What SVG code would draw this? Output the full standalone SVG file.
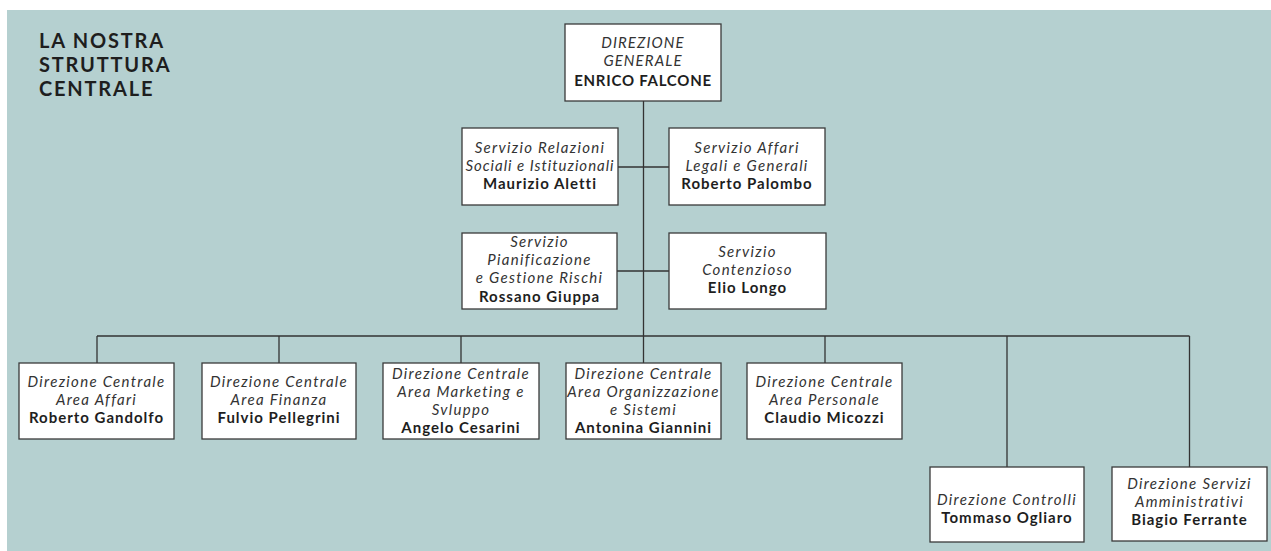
<svg xmlns="http://www.w3.org/2000/svg" width="1271" height="551" viewBox="0 0 1271 551">
<style>
.box{fill:#ffffff;stroke:#3a3a3a;stroke-width:1.3}
.ln{stroke:#333333;stroke-width:1.3;fill:none}
text{font-family:Lato,"Open Sans","Liberation Sans",sans-serif;fill:#1e1e1e;text-anchor:middle;font-size:15px}
.i{font-style:italic;fill:#333333;letter-spacing:1.3px}
.b{font-weight:bold;letter-spacing:1px}
.t{font-weight:bold;font-size:20px;letter-spacing:1.8px;text-anchor:start;fill:#1e1e1e}
</style>
<rect x="7" y="10" width="1264" height="541" fill="#b5d0d0"/>
<g id="title">
<text class="t" x="39" y="48">LA NOSTRA</text>
<text class="t" x="39" y="72">STRUTTURA</text>
<text class="t" x="39" y="96">CENTRALE</text>
</g>
<g id="connectors">
<path class="ln" d="M643.5 101V336M618 167H669M617 271H669M97 336H1189.5M97 336V363M279 336V363M461 336V363M643.5 336V363M825 336V363M1007 336V467M1189.5 336V467"/>
</g>
<g id="direzione-generale">
<rect class="box" x="565" y="24" width="156" height="77"/>
<text class="i" x="643" y="48" style="letter-spacing:1.1px">DIREZIONE</text>
<text class="i" x="643" y="66" style="letter-spacing:1.1px">GENERALE</text>
<text class="b" x="643" y="85.5" style="letter-spacing:0.75px">ENRICO FALCONE</text>
</g>
<g id="relazioni">
<rect class="box" x="462" y="128" width="156" height="77"/>
<text class="i" x="540" y="153">Servizio Relazioni</text>
<text class="i" x="540" y="171" style="letter-spacing:1px">Sociali e Istituzionali</text>
<text class="b" x="540" y="189">Maurizio Aletti</text>
</g>
<g id="affari-legali">
<rect class="box" x="669" y="128" width="156" height="77"/>
<text class="i" x="747" y="153">Servizio Affari</text>
<text class="i" x="747" y="171">Legali e Generali</text>
<text class="b" x="747" y="189">Roberto Palombo</text>
</g>
<g id="pianificazione">
<rect class="box" x="462" y="233" width="155" height="76"/>
<text class="i" x="539.5" y="247">Servizio</text>
<text class="i" x="539.5" y="265">Pianificazione</text>
<text class="i" x="539.5" y="283">e Gestione Rischi</text>
<text class="b" x="539.5" y="301.5">Rossano Giuppa</text>
</g>
<g id="contenzioso">
<rect class="box" x="669" y="233" width="157" height="76"/>
<text class="i" x="747.5" y="257">Servizio</text>
<text class="i" x="747.5" y="275">Contenzioso</text>
<text class="b" x="747.5" y="293">Elio Longo</text>
</g>
<g id="area-affari">
<rect class="box" x="19" y="363" width="155" height="76"/>
<text class="i" x="96.5" y="386.5">Direzione Centrale</text>
<text class="i" x="96.5" y="404.5">Area Affari</text>
<text class="b" x="96.5" y="423">Roberto Gandolfo</text>
</g>
<g id="area-finanza">
<rect class="box" x="202" y="363" width="154" height="76"/>
<text class="i" x="279" y="386.5">Direzione Centrale</text>
<text class="i" x="279" y="404.5">Area Finanza</text>
<text class="b" x="279" y="423">Fulvio Pellegrini</text>
</g>
<g id="area-marketing">
<rect class="box" x="383" y="363" width="156" height="76"/>
<text class="i" x="461" y="378.5">Direzione Centrale</text>
<text class="i" x="461" y="396.5">Area Marketing e</text>
<text class="i" x="461" y="414.5">Svluppo</text>
<text class="b" x="461" y="432.5">Angelo Cesarini</text>
</g>
<g id="area-organizzazione">
<rect class="box" x="566" y="363" width="155" height="76"/>
<text class="i" x="643.5" y="378.5">Direzione Centrale</text>
<text class="i" x="643.5" y="396.5">Area Organizzazione</text>
<text class="i" x="643.5" y="414.5">e Sistemi</text>
<text class="b" x="643.5" y="432.5">Antonina Giannini</text>
</g>
<g id="area-personale">
<rect class="box" x="747" y="363" width="155" height="76"/>
<text class="i" x="824.5" y="386.5">Direzione Centrale</text>
<text class="i" x="824.5" y="404.5">Area Personale</text>
<text class="b" x="824.5" y="423">Claudio Micozzi</text>
</g>
<g id="controlli">
<rect class="box" x="930" y="467" width="154" height="75"/>
<text class="i" x="1007" y="505">Direzione Controlli</text>
<text class="b" x="1007" y="523">Tommaso Ogliaro</text>
</g>
<g id="servizi-amministrativi">
<rect class="box" x="1112" y="467" width="155" height="74"/>
<text class="i" x="1189.5" y="489">Direzione Servizi</text>
<text class="i" x="1189.5" y="507">Amministrativi</text>
<text class="b" x="1189.5" y="525">Biagio Ferrante</text>
</g>
</svg>
